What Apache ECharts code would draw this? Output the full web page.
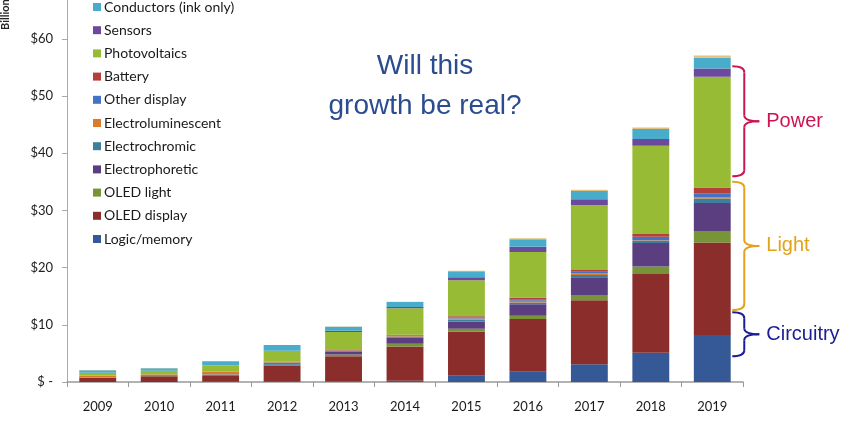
<!DOCTYPE html>
<html lang="en">
  <head>
    <meta charset="utf-8">
    <title>Printed electronics market</title>
    <script src="https://cdn.jsdelivr.net/npm/echarts@6/dist/echarts.min.js"></script>
    <style>
      html, body { margin: 0; padding: 0; background: #fff; }
    </style>
  </head>
  <body>
    <div id="chart" style="width: 842px;height:422px;"></div>
    <script type="text/javascript">
    // years on the x axis
    var years = ['2009', '2010', '2011', '2012', '2013', '2014', '2015', '2016', '2017', '2018', '2019'];

    // $ billions, stacked bottom to top
    var logicMemory      = [0, 0, 0.05, 0.05, 0.1, 0.2, 1.1, 1.8, 3.1, 5.1, 8.2];
    var oledDisplay      = [0.7, 1.0, 1.15, 2.8, 4.4, 6.0, 7.7, 9.2, 11.2, 13.8, 16.2];
    var oledLight        = [0.05, 0.05, 0.05, 0.05, 0.3, 0.5, 0.5, 0.6, 0.9, 1.3, 2.0];
    var electrophoretic  = [0.05, 0.1, 0.05, 0.1, 0.5, 1.05, 1.3, 2.0, 3.1, 4.1, 4.9];
    var electrochromic   = [0.05, 0.1, 0.05, 0.4, 0.1, 0.2, 0.3, 0.3, 0.4, 0.4, 0.8];
    var electrolum       = [0.3, 0.1, 0.45, 0.1, 0.1, 0.1, 0.2, 0.3, 0.3, 0.1, 0.2];
    var otherDisplay     = [0, 0, 0, 0.05, 0.05, 0.1, 0.2, 0.2, 0.3, 0.6, 0.7];
    var battery          = [0, 0, 0.05, 0, 0.05, 0.1, 0.2, 0.35, 0.3, 0.5, 1.0];
    var photovoltaics    = [0.45, 0.6, 1.1, 1.9, 3.15, 4.65, 6.3, 8.0, 11.3, 15.4, 19.4];
    var sensors          = [0, 0, 0, 0, 0.2, 0.2, 0.5, 0.9, 1.05, 1.2, 1.4];
    var conductors       = [0.45, 0.45, 0.7, 1.0, 0.7, 0.9, 1.05, 1.3, 1.45, 1.75, 1.9];
    var topStrip         = [0.05, 0.05, 0, 0, 0.05, 0.05, 0.1, 0.2, 0.2, 0.25, 0.4];

    // y axis: ticks every $10, the plot is cut off at the top just under $67
    var yMax = 66.8, yStep = 10;

    // brace annotations: [label, from, to, colour] in $ billions
    var braces = [
        ['Power', 36.0, 55.2, '#cc1450'],
        ['Light', 12.6, 35.0, '#e3a21a'],
        ['Circuitry', 4.5, 12.2, '#1c1c96']
    ];

    var seriesDefs = [
        ['Logic/memory', logicMemory, '#355896'],
        ['OLED display', oledDisplay, '#8b2e2b'],
        ['OLED light', oledLight, '#779437'],
        ['Electrophoretic', electrophoretic, '#5b3e80'],
        ['Electrochromic', electrochromic, '#3f7f9e'],
        ['Electroluminescent', electrolum, '#d97b2a'],
        ['Other display', otherDisplay, '#4472c4'],
        ['Battery', battery, '#b4403a'],
        ['Photovoltaics', photovoltaics, '#98bb35'],
        ['Sensors', sensors, '#6b4a9e'],
        ['Conductors (ink only)', conductors, '#4aaccb'],
        ['Other', topStrip, '#e2c27e']
    ];

    var chart = echarts.init(document.getElementById('chart'));

    var series = seriesDefs.map(function (d) {
        return {
            name: d[0],
            type: 'bar',
            stack: 'total',
            barWidth: '60%',
            itemStyle: { color: d[2] },
            data: d[1]
        };
    });

    // legend lists top of stack first, the cut-off top strip has no entry
    var legendNames = seriesDefs.slice(0, 11).map(function (d) { return d[0]; }).reverse();

    var option = {
        animation: false,
        backgroundColor: '#fff',
        textStyle: { fontFamily: 'Lato, sans-serif' },
        legend: {
            orient: 'vertical',
            left: 88,
            top: 0,
            padding: [0, 5, 5, 5],
            itemWidth: 8,
            itemHeight: 8,
            itemGap: 9.2,
            icon: 'rect',
            data: legendNames,
            textStyle: { fontSize: 14, lineHeight: 14, color: '#1a1a1a', fontFamily: 'Lato, sans-serif', padding: [0, 0, 0, -2] }
        },
        grid: {
            left: 67,
            right: 99,
            top: 0,
            bottom: 40
        },
        xAxis: {
            type: 'category',
            data: years,
            axisLine: { lineStyle: { color: '#999', width: 1.5 } },
            axisTick: { show: true, length: 5, lineStyle: { color: '#999' } },
            axisLabel: { fontSize: 13, color: '#1a1a1a', margin: 18, fontFamily: 'Lato, sans-serif' }
        },
        yAxis: {
            type: 'value',
            min: 0,
            max: yMax,
            interval: yStep,
            splitLine: { show: false },
            axisLine: { show: true, lineStyle: { color: '#aaa' } },
            axisTick: { show: true, length: 5, lineStyle: { color: '#aaa' } },
            axisLabel: {
                fontSize: 13,
                color: '#222',
                margin: 14,
                showMaxLabel: false,
                fontFamily: 'Lato, sans-serif',
                formatter: function (v) { return v === 0 ? '$ -' : '$' + v; }
            }
        },
        series: series
    };

    chart.setOption(option);

    // annotations placed from data values
    var graphics = [
        {
            type: 'text',
            x: 0, y: 30,
            rotation: Math.PI / 2,
            style: { text: 'Billions', font: 'bold 11px Lato, sans-serif', fill: '#222' }
        },
        {
            type: 'text',
            x: 425, y: 46,
            style: {
                text: 'Will this\ngrowth be real?',
                font: '28px "Liberation Sans", Arial, sans-serif',
                fill: '#2b4c8e',
                align: 'center',
                lineHeight: 40
            }
        }
    ];

    var xLeft = chart.convertToPixel({ gridIndex: 0 }, [years.length - 1, 0])[0] + 20;
    braces.forEach(function (b) {
        var yTop = chart.convertToPixel({ gridIndex: 0 }, [0, b[2]])[1];
        var yBot = chart.convertToPixel({ gridIndex: 0 }, [0, b[1]])[1];
        var mid = (yTop + yBot) / 2;
        var xv = xLeft + 12, xp = xLeft + 27;
        var st = { stroke: b[3], lineWidth: 2, fill: null };
        var curve = function (x1, y1, cx, cy, x2, y2) {
            return { type: 'bezierCurve', shape: { x1: x1, y1: y1, cpx1: cx, cpy1: cy, x2: x2, y2: y2 }, style: st };
        };
        var line = function (x1, y1, x2, y2) {
            return { type: 'line', shape: { x1: x1, y1: y1, x2: x2, y2: y2 }, style: st };
        };
        graphics.push(curve(xLeft, yTop, xv, yTop, xv, yTop + 6));
        graphics.push(line(xv, yTop + 6, xv, mid - 6));
        graphics.push(curve(xv, mid - 6, xv, mid, xp, mid));
        graphics.push(curve(xp, mid, xv, mid, xv, mid + 6));
        graphics.push(line(xv, mid + 6, xv, yBot - 6));
        graphics.push(curve(xv, yBot - 6, xv, yBot, xLeft, yBot));
        graphics.push({
            type: 'text',
            x: xp + 7, y: mid,
            style: {
                text: b[0],
                font: '20px "Liberation Sans", Arial, sans-serif',
                fill: b[3],
                verticalAlign: 'middle'
            }
        });
    });

    chart.setOption({ graphic: graphics });
    </script>
  </body>
</html>
